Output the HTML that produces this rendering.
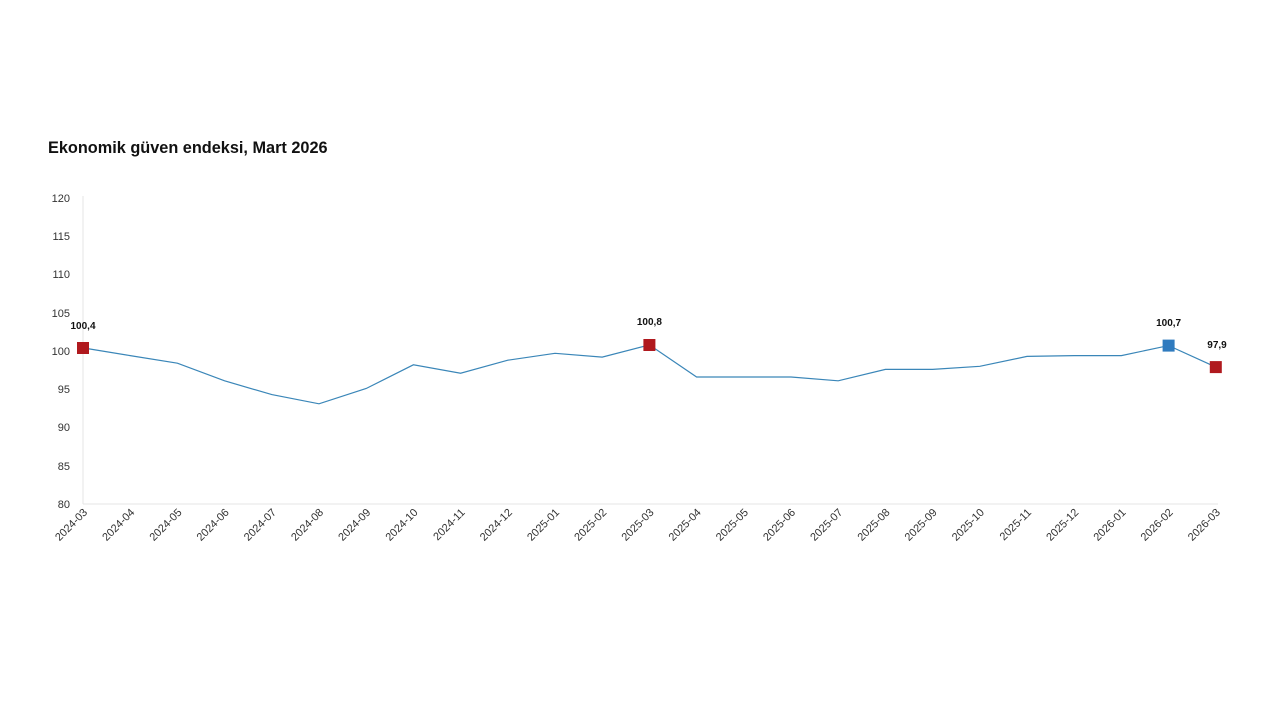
<!DOCTYPE html>
<html><head><meta charset="utf-8"><style>
body{margin:0;background:#fff;width:1280px;height:720px;overflow:hidden}
svg{font-family:"Liberation Sans",sans-serif}
</style></head><body>
<svg width="1280" height="720" viewBox="0 0 1280 720">
<text x="48" y="153" font-size="16.3" font-weight="bold" fill="#111">Ekonomik güven endeksi, Mart 2026</text>
<line x1="83" y1="196" x2="83" y2="504" stroke="#e6e6e6"/>
<line x1="83" y1="504" x2="1218" y2="504" stroke="#e6e6e6"/>
<g font-size="11" fill="#333" text-anchor="end">
<text x="70" y="202">120</text><text x="70" y="240">115</text><text x="70" y="278">110</text><text x="70" y="317">105</text><text x="70" y="355">100</text><text x="70" y="393">95</text><text x="70" y="431">90</text><text x="70" y="470">85</text><text x="70" y="508">80</text>
</g>
<g font-size="11" fill="#333" text-anchor="end">
<text transform="translate(88,513) rotate(-45)">2024-03</text>
<text transform="translate(135.2,513) rotate(-45)">2024-04</text>
<text transform="translate(182.4,513) rotate(-45)">2024-05</text>
<text transform="translate(229.6,513) rotate(-45)">2024-06</text>
<text transform="translate(276.8,513) rotate(-45)">2024-07</text>
<text transform="translate(324,513) rotate(-45)">2024-08</text>
<text transform="translate(371.2,513) rotate(-45)">2024-09</text>
<text transform="translate(418.4,513) rotate(-45)">2024-10</text>
<text transform="translate(465.6,513) rotate(-45)">2024-11</text>
<text transform="translate(512.8,513) rotate(-45)">2024-12</text>
<text transform="translate(560,513) rotate(-45)">2025-01</text>
<text transform="translate(607.2,513) rotate(-45)">2025-02</text>
<text transform="translate(654.4,513) rotate(-45)">2025-03</text>
<text transform="translate(701.6,513) rotate(-45)">2025-04</text>
<text transform="translate(748.8,513) rotate(-45)">2025-05</text>
<text transform="translate(796,513) rotate(-45)">2025-06</text>
<text transform="translate(843.2,513) rotate(-45)">2025-07</text>
<text transform="translate(890.4,513) rotate(-45)">2025-08</text>
<text transform="translate(937.6,513) rotate(-45)">2025-09</text>
<text transform="translate(984.8,513) rotate(-45)">2025-10</text>
<text transform="translate(1032,513) rotate(-45)">2025-11</text>
<text transform="translate(1079.2,513) rotate(-45)">2025-12</text>
<text transform="translate(1126.4,513) rotate(-45)">2026-01</text>
<text transform="translate(1173.6,513) rotate(-45)">2026-02</text>
<text transform="translate(1220.8,513) rotate(-45)">2026-03</text>
</g>
<polyline fill="none" stroke="#3a86b8" stroke-width="1.2" points="83,347.9 130.2,355.6 177.4,363.2 224.6,380.8 271.8,394.6 319,403.8 366.2,388.5 413.4,364.8 460.6,373.2 507.8,360.2 555,353.3 602.2,357.1 649.4,344.9 696.6,377 743.8,377 791,377 838.2,380.8 885.4,369.4 932.6,369.4 979.8,366.3 1027,356.4 1074.2,355.6 1121.4,355.6 1168.6,345.6 1215.8,367.1"/>
<rect x="77" y="342" width="12" height="12" fill="#b0191e"/>
<rect x="643.4" y="339" width="12" height="12" fill="#b0191e"/>
<rect x="1162.6" y="339.6" width="12" height="12" fill="#2f7bbf"/>
<rect x="1209.8" y="361.1" width="12" height="12" fill="#b0191e"/>
<g font-size="10" font-weight="bold" fill="#111" text-anchor="middle">
<text x="83" y="329">100,4</text>
<text x="649.4" y="325">100,8</text>
<text x="1168.6" y="326">100,7</text>
<text x="1217" y="348">97,9</text>
</g>
</svg>
</body></html>
